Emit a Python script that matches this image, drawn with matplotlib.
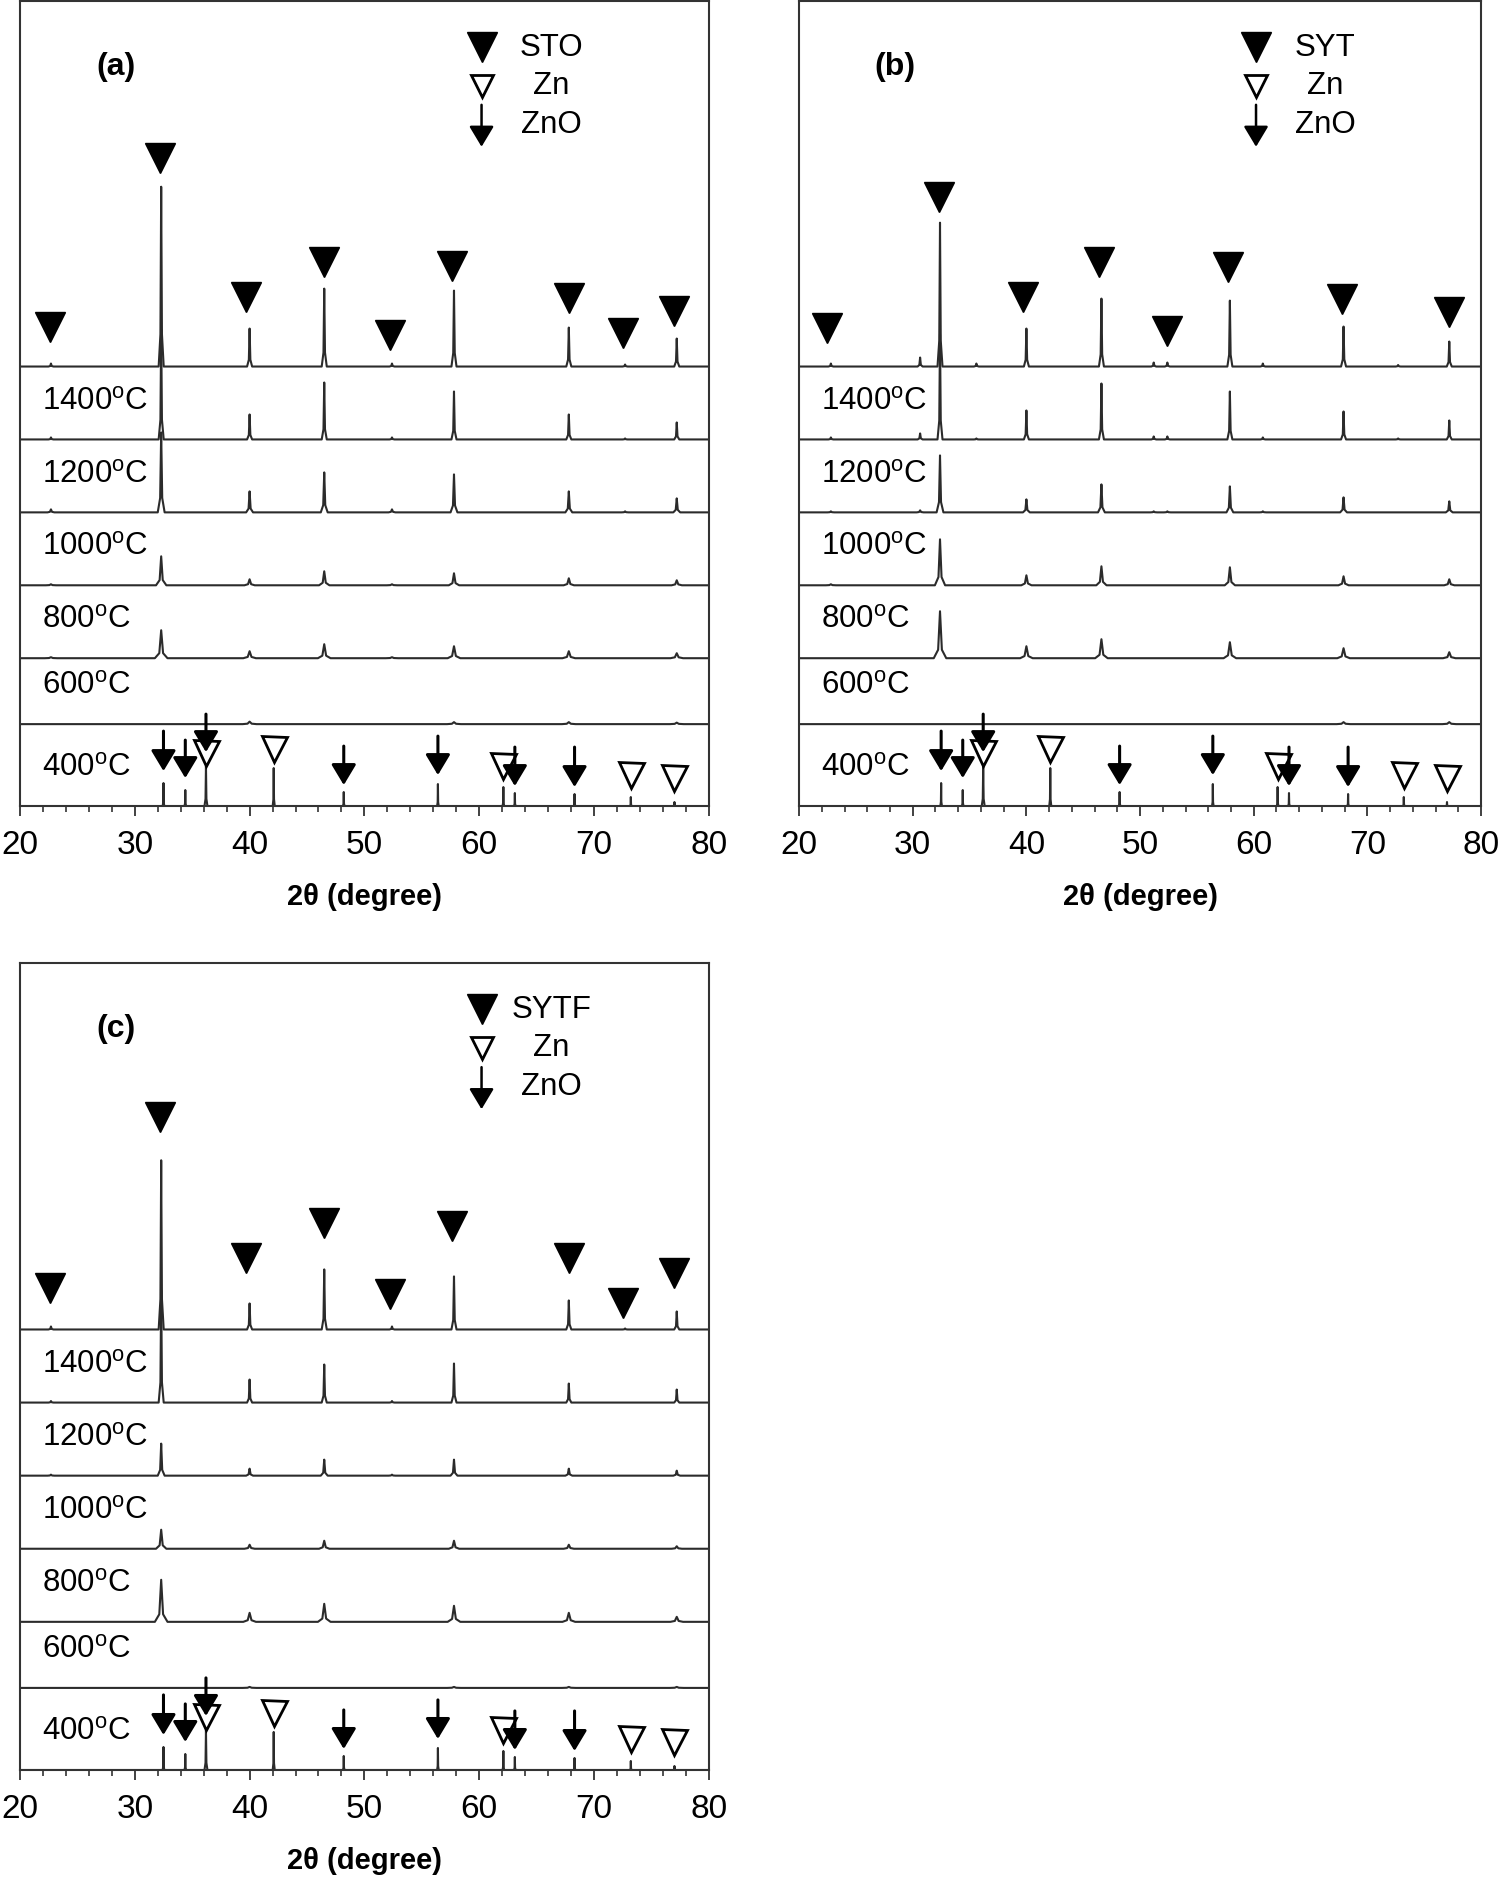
import matplotlib.pyplot as plt
from matplotlib.ticker import MultipleLocator

plt.rcParams['font.family'] = ['Liberation Sans', 'DejaVu Sans']
plt.rcParams['mathtext.fontset'] = 'custom'
plt.rcParams['mathtext.rm'] = 'Liberation Sans'

# stacked traces, top to bottom (top one has no label)
temps = ['1400', '1200', '1000', '800', '600', '400']
offsets = [440, 367, 294, 221, 148, 82, 0]
widths = [0.22, 0.22, 0.3, 0.45, 0.55, 0.6]

# (a) STO peaks, heights per trace
sto_pos = [22.7, 32.3, 40.0, 46.5, 52.4, 57.8, 67.8, 72.7, 77.2]
sto_rows = [
    [3, 180, 38, 78, 3, 76, 39, 2, 28],
    [2, 110, 25, 57, 2, 48, 25, 1, 17],
    [3, 80, 21, 40, 3, 38, 21, 1, 14],
    [1, 29, 6, 14, 1, 12, 7, 0, 5],
    [1, 28, 7, 14, 1, 12, 7, 0, 5],
    [0, 0, 2.5, 0, 0, 2, 2, 0, 1.5],
]
sto_mark_x = [22.6, 32.2, 39.7, 46.5, 52.2, 57.6, 67.8, 72.5, 77.0]
sto_mark_y = [480, 649, 510, 545, 472, 541, 509, 474, 496]

# (b) SYT peaks
syt_pos = [22.8, 30.65, 32.4, 35.6, 40.0, 46.6, 51.2, 52.4, 57.9, 60.8, 67.9, 72.7, 77.2]
syt_rows = [
    [3, 9, 144, 3, 38, 68, 4, 4, 66, 3, 40, 1.5, 25],
    [2, 6, 105, 1, 29, 56, 3, 3, 48, 2, 28, 1, 19],
    [1, 2, 57, 0, 13, 28, 1, 1, 26, 1, 15, 0, 11],
    [1, 0, 46, 0, 10, 19, 0, 0, 18, 0, 9, 0, 6],
    [0, 0, 47, 0, 12, 19, 0, 0, 16, 0, 10, 0, 6],
    [0, 0, 0, 0, 0, 0, 0, 0, 0, 0, 2, 0, 2],
]
syt_mark_x = [22.5, 32.3, 39.7, 46.4, 52.4, 57.7, 67.8, 77.2]
syt_mark_y = [479, 610, 510, 545, 476, 540, 508, 495]

# (c) SYTF peaks
sytf_pos = [22.7, 32.3, 40.0, 46.5, 52.4, 57.8, 67.8, 72.7, 77.2]
sytf_rows = [
    [3, 169, 26, 60, 3, 53, 29, 1, 18],
    [1.5, 112, 23, 38, 1.5, 39, 19, 0, 13],
    [1, 32, 7, 16, 1, 16, 7, 0, 5],
    [0, 19, 4, 8, 0, 8, 4, 0, 2.5],
    [0, 42, 9, 18, 0, 16, 9, 0, 5],
    [0, 0, 1, 0, 0, 1, 1, 0, 1],
]
sytf_mark_x = [22.6, 32.2, 39.7, 46.5, 52.2, 57.6, 67.8, 72.5, 77.0]
sytf_mark_y = [481, 652, 511, 546, 475, 543, 511, 466, 496]

# 400 C trace: Zn / ZnO reflections
zn_peak_pos = [32.5, 34.4, 36.2, 42.1, 48.2, 56.4, 62.1, 63.1, 68.3, 73.2, 77.0]
zn_peak_h = [23, 16, 40, 38, 14, 22, 19, 13, 12, 9, 4]
zn_peak_w = [0.07, 0.07, 0.13, 0.09, 0.07, 0.07, 0.07, 0.07, 0.07, 0.07, 0.07]

zno_x = [32.5, 34.4, 36.2, 48.2, 56.4, 63.1, 68.3]
zno_tail = [75, 66, 92, 60, 70, 59, 59]
zno_tip = [35, 28, 54, 21, 31, 20, 19]
zn_x = [36.2, 42.1, 62.1, 73.2, 77.0]
zn_y = [53, 57, 40, 31, 28]

# peak shape (relative)
shape_dx = [-1, -0.3, 0, 0.3, 1]
shape_dy = [0, 0.18, 1, 0.18, 0]

line_c = '#2b2b2b'
arrow_style = '-|>,head_length=0.6,head_width=0.36'


def profile(pos, hts, w):
    xs, ys = [20], [0]
    ws = w if isinstance(w, list) else [w] * len(pos)
    for p, h, wi in sorted(zip(pos, hts, ws)):
        if h <= 0:
            continue
        for dx, dy in zip(shape_dx, shape_dy):
            xs.append(p + dx * wi)
            ys.append(h * dy)
    xs.append(80)
    ys.append(0)
    return xs, ys


def arrow(ax, x, y0, y1, lw=2.2):
    ax.annotate('', xy=(x, y1), xytext=(x, y0),
                arrowprops=dict(arrowstyle=arrow_style, lw=lw, color='k',
                                mutation_scale=21, shrinkA=0, shrinkB=0))


def panel(ax, pos, rows, mark_x, mark_y, name, letter):
    for i, row in enumerate(rows):
        xs, ys = profile(pos, row, widths[i])
        ax.plot(xs, [offsets[i] + v for v in ys], color=line_c, lw=1.5)
    xs, ys = profile(zn_peak_pos, zn_peak_h, zn_peak_w)
    ax.plot(xs, ys, color=line_c, lw=1.5)

    for t, off in zip(temps, offsets[1:]):
        ax.text(21.9, off + 38, t + r'$^{\rm o}$C', fontsize=22.5,
                ha='left', va='center')

    ax.plot(mark_x, mark_y, 'v', color='k', ms=21, ls='none')
    for x, a, b in zip(zno_x, zno_tail, zno_tip):
        arrow(ax, x, a, b)
    ax.plot(zn_x, zn_y, 'v', mfc='white', mec='k', mew=2, ms=18, ls='none')

    # legend
    ax.plot([60.2], [760], 'v', color='k', ms=21)
    ax.plot([60.2], [721], 'v', mfc='white', mec='k', mew=2, ms=16)
    arrow(ax, 60.2, 702, 660, lw=1.8)
    ax.text(66.3, 759, name, fontsize=22.5, ha='center', va='center')
    ax.text(66.3, 721, 'Zn', fontsize=22.5, ha='center', va='center')
    ax.text(66.3, 682, 'ZnO', fontsize=22.5, ha='center', va='center')

    ax.text(28.4, 740, letter, fontsize=23, fontweight='bold',
            ha='center', va='center')

    ax.set_xlim(20, 80)
    ax.set_ylim(0, 806)
    ax.set_yticks([])
    ax.xaxis.set_major_locator(MultipleLocator(10))
    ax.xaxis.set_minor_locator(MultipleLocator(2))
    ax.tick_params(axis='x', which='major', direction='out', length=7,
                   width=1.3, labelsize=24, pad=10, color='#333333')
    ax.tick_params(axis='x', which='minor', direction='out', length=4,
                   width=1.2, color='#333333')
    for s in ax.spines.values():
        s.set_linewidth(1.5)
        s.set_color('#333333')
    ax.set_xlabel('2θ (degree)', fontsize=21, fontweight='bold', labelpad=16)


fig = plt.figure(figsize=(15, 18.78), dpi=100)
ax_a = fig.add_axes([0.0133, 0.5708, 0.4593, 0.4287])
ax_b = fig.add_axes([0.5327, 0.5708, 0.4547, 0.4287])
ax_c = fig.add_axes([0.0133, 0.0575, 0.4593, 0.4297])

panel(ax_a, sto_pos, sto_rows, sto_mark_x, sto_mark_y, 'STO', '(a)')
panel(ax_b, syt_pos, syt_rows, syt_mark_x, syt_mark_y, 'SYT', '(b)')
panel(ax_c, sytf_pos, sytf_rows, sytf_mark_x, sytf_mark_y, 'SYTF', '(c)')

fig.savefig('out.png', dpi=100)
